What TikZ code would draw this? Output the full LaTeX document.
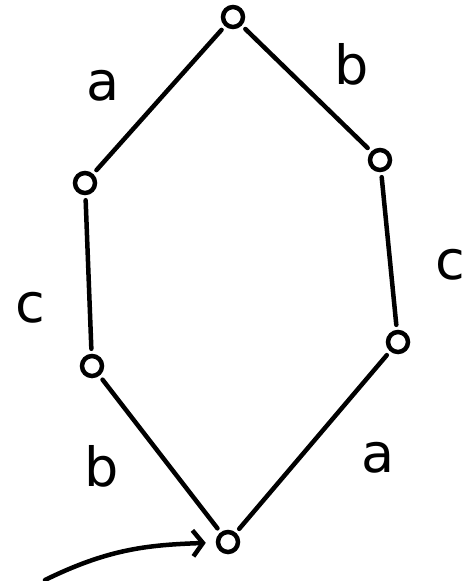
\documentclass[tikz,border=0pt]{standalone}
\usepackage{fontspec}
\setmainfont{DejaVu Sans}
\usetikzlibrary{arrows.meta}

\begin{document}
\begin{tikzpicture}[x=1pt, y=-1pt, line width=4.5pt, line cap=round,
    state/.style={circle, draw, minimum size=20pt, inner sep=0pt},
    lbl/.style={font=\fontsize{54}{54}\selectfont},
    edge/.style={shorten <=5pt, shorten >=5pt}]
  \useasboundingbox (0,0) rectangle (471,581);

  % the six states of the cycle
  \node[state] (top) at (233,17) {};
  \node[state] (lu) at (85,183) {};
  \node[state] (ru) at (380,160) {};
  \node[state] (ll) at (92,366) {};
  \node[state] (rl) at (398,342) {};
  \node[state] (bot) at (228,542) {};
  \coordinate (start) at (45,580);

  \draw[edge] (top) -- (lu);
  \draw[edge] (top) -- (ru);
  \draw[edge] (lu) -- (ll);
  \draw[edge] (ru) -- (rl);
  \draw[edge] (ll) -- (bot);
  \draw[edge] (rl) -- (bot);
  \draw[-{Straight Barb[length=10pt, width=26pt]}, shorten >=10pt]
    (start) .. controls (110,548) and (150,545) .. (bot);

  \node[lbl] (la1) at (103,86) {a};
  \node[lbl] (lb1) at (352,64) {b};
  \node[lbl] (lc1) at (30,308) {c};
  \node[lbl] (lc2) at (450,265) {c};
  \node[lbl] (lb2) at (102,466) {b};
  \node[lbl] (la2) at (378,458) {a};
\end{tikzpicture}
\end{document}
